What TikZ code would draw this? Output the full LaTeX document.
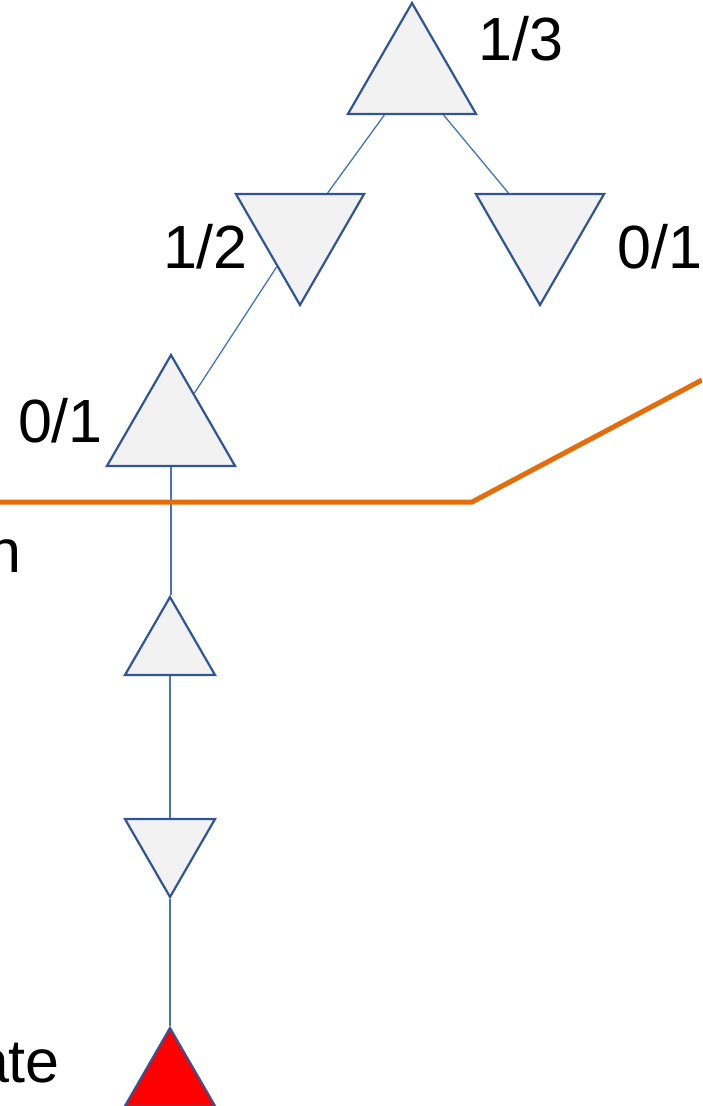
\documentclass[tikz,border=0pt]{standalone}
\usepackage{fontspec}
\setmainfont{Liberation Sans}
\usetikzlibrary{shapes.geometric}
\definecolor{treeblue}{HTML}{2F5597}
\definecolor{linkblue}{HTML}{4472C4}
\definecolor{treegray}{HTML}{F2F2F2}
\definecolor{cutorange}{HTML}{E46C0A}

\begin{document}
\begin{tikzpicture}[x=1pt, y=-1pt,
  maxnode/.style={regular polygon, regular polygon sides=3, draw=treeblue,
                  fill=treegray, line width=2.2pt, inner sep=0pt,
                  minimum size=148pt},
  minnode/.style={maxnode, shape border rotate=180},
  small/.style={minimum size=104pt},
  link/.style={linkblue, line width=1.3pt},
  val/.style={font=\fontsize{61}{62}\selectfont, inner sep=0pt},
]
  \useasboundingbox (0,0) rectangle (702,1106);
  \clip (0,0) rectangle (702,1106);

  % Tree
  \node[maxnode] (root) at (412,77) {};
  \node[minnode] (left) at (300,231) {};
  \node[minnode] (right) at (540,231) {};
  \node[maxnode] (deep) at (171,429) {};
  \node[maxnode, small] (up) at (170,649) {};
  \node[minnode, small] (down) at (170,845) {};
  \node[maxnode, small, fill=red] (leaf) at (170,1080) {};

  \draw[link] (root) -- (left);
  \draw[link] (root) -- (right);
  \draw[link] (left) -- (deep);
  \draw[link] (up.north -| deep.south) -- (deep.south);
  \draw[link] (up.south) -- (down.north);
  \draw[link] (down.south) -- (leaf.north);

  % Cut-off line
  \draw[cutorange, line width=5pt] (0,502) -- (472,502) -- (702,380);

  % Values
  \node[val, anchor=base west] (vroot) at (478,60) {1/3};
  \node[val, anchor=base east] (vleft) at (248,268) {1/2};
  \node[val, anchor=base west] (vright) at (617,268) {0/1};
  \node[val, anchor=base east] (vdeep) at (103,442) {0/1};
  \node[val, anchor=base east] (tcut) at (22,572) {n};
  \node[val, anchor=base east] (tleaf) at (60,1082) {ate};
\end{tikzpicture}
\end{document}
